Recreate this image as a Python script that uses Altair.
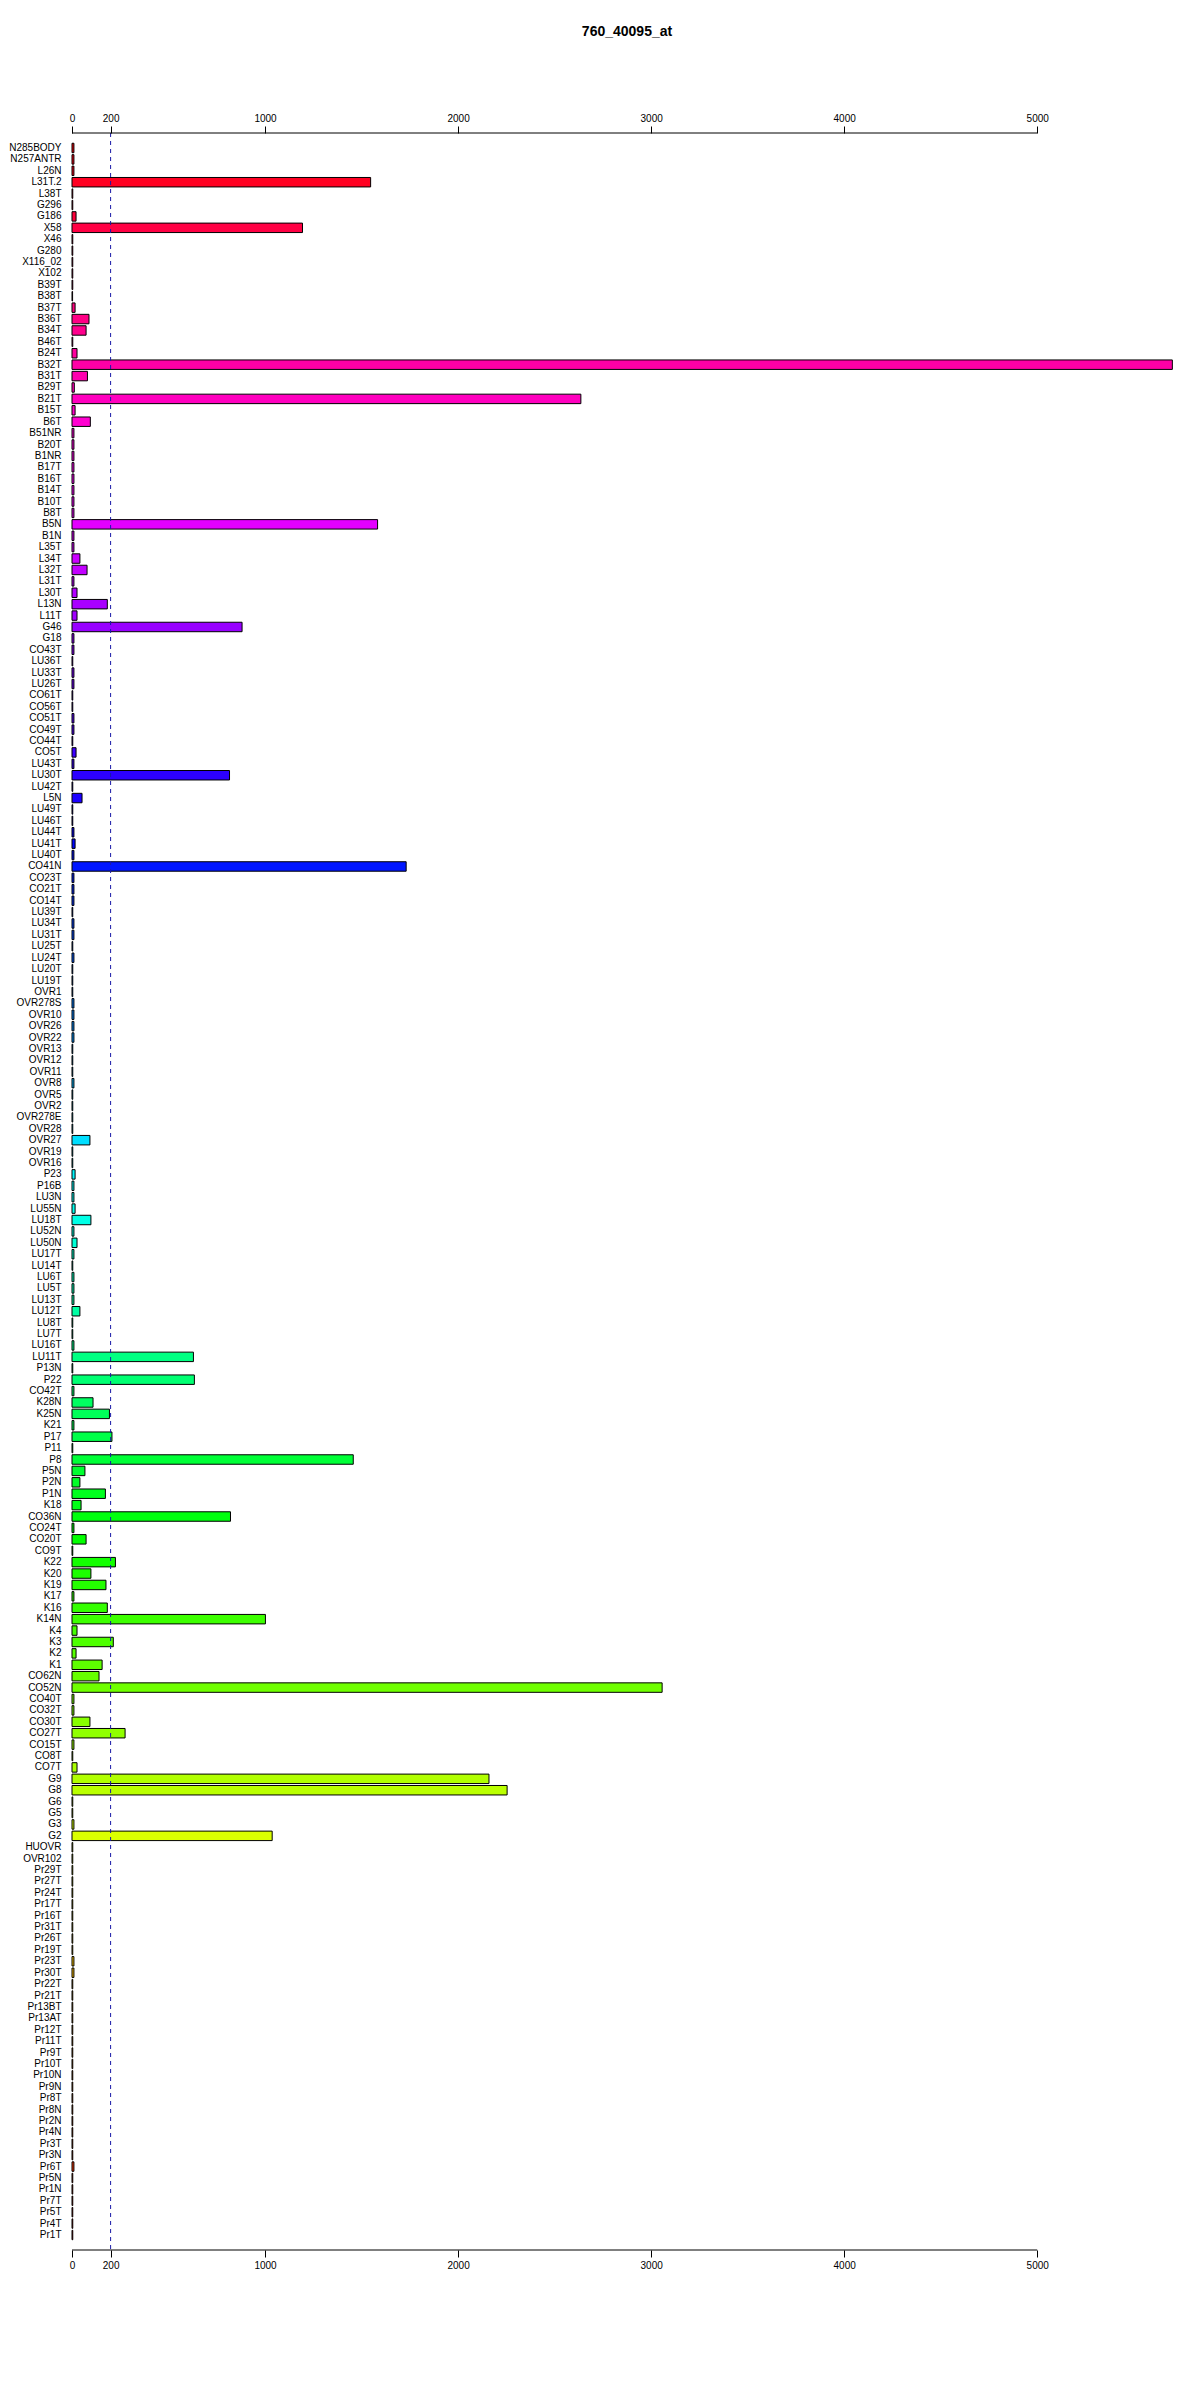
import altair as alt
import pandas as pd
import colorsys

categories = [
    "N285BODY", "N257ANTR", "L26N", "L31T.2", "L38T", "G296", "G186", "X58", "X46", "G280",
    "X116_02", "X102", "B39T", "B38T", "B37T", "B36T", "B34T", "B46T", "B24T", "B32T",
    "B31T", "B29T", "B21T", "B15T", "B6T", "B51NR", "B20T", "B1NR", "B17T", "B16T",
    "B14T", "B10T", "B8T", "B5N", "B1N", "L35T", "L34T", "L32T", "L31T", "L30T",
    "L13N", "L11T", "G46", "G18", "CO43T", "LU36T", "LU33T", "LU26T", "CO61T", "CO56T",
    "CO51T", "CO49T", "CO44T", "CO5T", "LU43T", "LU30T", "LU42T", "L5N", "LU49T", "LU46T",
    "LU44T", "LU41T", "LU40T", "CO41N", "CO23T", "CO21T", "CO14T", "LU39T", "LU34T", "LU31T",
    "LU25T", "LU24T", "LU20T", "LU19T", "OVR1", "OVR278S", "OVR10", "OVR26", "OVR22", "OVR13",
    "OVR12", "OVR11", "OVR8", "OVR5", "OVR2", "OVR278E", "OVR28", "OVR27", "OVR19", "OVR16",
    "P23", "P16B", "LU3N", "LU55N", "LU18T", "LU52N", "LU50N", "LU17T", "LU14T", "LU6T",
    "LU5T", "LU13T", "LU12T", "LU8T", "LU7T", "LU16T", "LU11T", "P13N", "P22", "CO42T",
    "K28N", "K25N", "K21", "P17", "P11", "P8", "P5N", "P2N", "P1N", "K18",
    "CO36N", "CO24T", "CO20T", "CO9T", "K22", "K20", "K19", "K17", "K16", "K14N",
    "K4", "K3", "K2", "K1", "CO62N", "CO52N", "CO40T", "CO32T", "CO30T", "CO27T",
    "CO15T", "CO8T", "CO7T", "G9", "G8", "G6", "G5", "G3", "G2", "HUOVR",
    "OVR102", "Pr29T", "Pr27T", "Pr24T", "Pr17T", "Pr16T", "Pr31T", "Pr26T", "Pr19T", "Pr23T",
    "Pr30T", "Pr22T", "Pr21T", "Pr13BT", "Pr13AT", "Pr12T", "Pr11T", "Pr9T", "Pr10T", "Pr10N",
    "Pr9N", "Pr8T", "Pr8N", "Pr2N", "Pr4N", "Pr3T", "Pr3N", "Pr6T", "Pr5N", "Pr1N",
    "Pr7T", "Pr5T", "Pr4T", "Pr1T",
]

values = [
    10, 10, 10, 1547, 4, 4, 21, 1194, 4, 4,
    4, 4, 4, 3, 16, 88, 73, 4, 26, 5700,
    80, 12, 2636, 16, 95, 10, 10, 10, 10, 10,
    10, 10, 10, 1583, 10, 10, 41, 78, 10, 26,
    183, 26, 881, 10, 10, 4, 10, 10, 4, 4,
    10, 10, 4, 21, 10, 816, 4, 52, 4, 4,
    10, 16, 10, 1731, 10, 10, 10, 4, 10, 10,
    4, 10, 4, 4, 4, 10, 10, 10, 10, 4,
    4, 4, 10, 4, 4, 4, 4, 93, 4, 4,
    16, 10, 10, 16, 98, 10, 26, 10, 4, 10,
    10, 10, 41, 4, 4, 10, 629, 4, 634, 10,
    109, 194, 10, 207, 4, 1457, 67, 41, 173, 47,
    821, 10, 73, 4, 225, 98, 176, 10, 183, 1002,
    26, 214, 21, 156, 140, 3057, 10, 10, 93, 275,
    10, 4, 26, 2160, 2254, 4, 4, 10, 1037, 4,
    4, 4, 4, 4, 4, 4, 4, 4, 4, 10,
    10, 4, 4, 4, 4, 4, 4, 4, 4, 4,
    4, 4, 4, 4, 4, 4, 4, 10, 4, 4,
    4, 4, 4, 4,
]

tick_values = [0, 200, 1000, 2000, 3000, 4000, 5000]
threshold = [200]
title_text = "760_40095_at"

n = len(categories)
colors = []
for i in range(n):
    h = (n - 1 - i) / n
    r, g, b = colorsys.hsv_to_rgb(h, 1.0, 1.0)
    colors.append("#%02x%02x%02x" % (round(r * 255), round(g * 255), round(b * 255)))

df = pd.DataFrame({"name": categories, "value": values})
one = pd.DataFrame({"dummy": [0]})

W = 1110
H = 2117
FONT = "Liberation Sans"
xscale = alt.Scale(domain=[0, 5750], nice=False, zero=True)


def x_axis(orient):
    return alt.Axis(
        orient=orient, values=tick_values, format="d", title=None, domain=False, grid=False,
        tickSize=7, tickColor="black", labelFontSize=10, labelPadding=3,
        labelFont=FONT, labelColor="black", labelFlush=False, labelOverlap=False,
    )


bars = alt.Chart(df).mark_bar(stroke="black", strokeWidth=1, opacity=1).encode(
    y=alt.Y(
        "name:N",
        sort=categories,
        scale=alt.Scale(paddingInner=0.17, paddingOuter=0.9),
        axis=alt.Axis(
            title=None, ticks=False, domain=False, labelFontSize=10,
            labelPadding=11, labelFont=FONT, labelColor="black",
        ),
    ),
    x=alt.X("value:Q", scale=xscale, axis=x_axis("top")),
    color=alt.Color("name:N", scale=alt.Scale(domain=categories, range=colors), legend=None),
)

dashed = alt.Chart(one).mark_rule(color="#1a1aa8", strokeDash=[4, 4], strokeWidth=1).encode(
    x=alt.X(datum=threshold[0], scale=xscale, axis=x_axis("bottom"))
)

top_line = alt.Chart(one).mark_rule(color="black", strokeWidth=1).encode(
    x=alt.X(datum=tick_values[0], scale=xscale, axis=None),
    x2=alt.X2(datum=tick_values[-1]),
    y=alt.value(0),
)
bottom_line = alt.Chart(one).mark_rule(color="black", strokeWidth=1).encode(
    x=alt.X(datum=tick_values[0], scale=xscale, axis=None),
    x2=alt.X2(datum=tick_values[-1]),
    y=alt.value(H),
)

chart = (
    alt.layer(bars, dashed, top_line, bottom_line)
    .resolve_axis(x="independent")
    .properties(
        width=W,
        height=H,
        padding={"left": 0, "top": 17, "right": 0, "bottom": 5},
        title=alt.TitleParams(
            title_text, fontSize=14, fontWeight="bold", font=FONT, anchor="middle",
            offset=74, color="black",
        ),
        background="white",
    )
    .configure_view(stroke=None)
)

chart.save("out.html", embed_options={"renderer": "svg", "actions": False})
